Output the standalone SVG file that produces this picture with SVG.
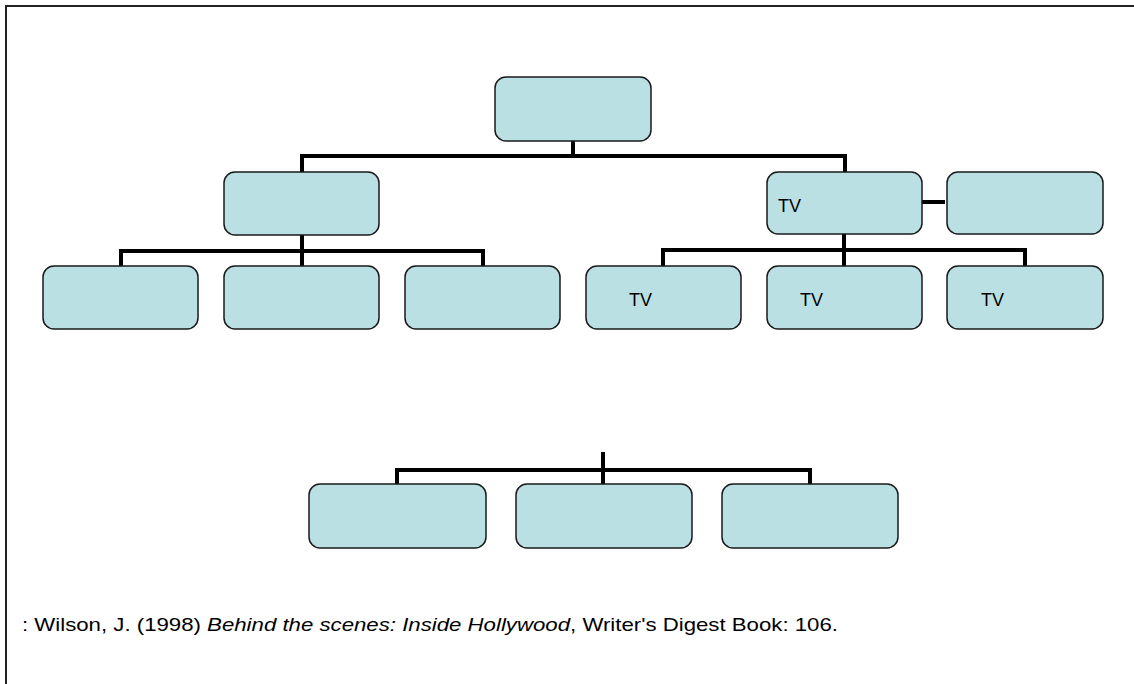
<svg xmlns="http://www.w3.org/2000/svg" width="1134" height="684" viewBox="0 0 1134 684">
<style>
.box{fill:#BBE0E3;stroke:#1a1a1a;stroke-width:1.5}
.con{fill:none;stroke:#000;stroke-width:4}
.lbl{font-family:"Liberation Sans",Arial,sans-serif;font-size:18px;fill:#000}
.ref{font-family:"Liberation Sans",Arial,sans-serif;font-size:19px;fill:#000}
</style>
<rect width="1134" height="684" fill="#fff"/>
<path d="M6 684 V6 H1134" fill="none" stroke="#222" stroke-width="2"/>
<g id="connectors">
<path class="con" d="M573 141 V156 M302 172 V156 H845 V172"/>
<path class="con" d="M302 235 V251 M121 266 V251 H483 V266 M302 251 V266"/>
<path class="con" d="M844 234 V250 M663 266 V250 H1025 V266 M844 250 V266"/>
<path class="con" d="M922 202 H945"/>
<path class="con" d="M603 452 V470 M397 484 V470 H810 V484 M603 470 V484"/>
</g>
<g id="n-top"><rect class="box" x="495" y="77" width="156" height="64" rx="11"/></g>
<g id="n-l2a"><rect class="box" x="224" y="172" width="155" height="63" rx="11"/></g>
<g id="n-l2b"><rect class="box" x="767" y="172" width="155" height="62" rx="11"/><text class="lbl" x="778" y="212">TV</text></g>
<g id="n-side"><rect class="box" x="947" y="172" width="156" height="62" rx="11"/></g>
<g id="n-l3a"><rect class="box" x="43" y="266" width="155" height="63" rx="11"/></g>
<g id="n-l3b"><rect class="box" x="224" y="266" width="155" height="63" rx="11"/></g>
<g id="n-l3c"><rect class="box" x="405" y="266" width="155" height="63" rx="11"/></g>
<g id="n-l3d"><rect class="box" x="586" y="266" width="155" height="63" rx="11"/><text class="lbl" x="629" y="306">TV</text></g>
<g id="n-l3e"><rect class="box" x="767" y="266" width="155" height="63" rx="11"/><text class="lbl" x="800" y="306">TV</text></g>
<g id="n-l3f"><rect class="box" x="947" y="266" width="156" height="63" rx="11"/><text class="lbl" x="981" y="306">TV</text></g>
<g id="n-b1"><rect class="box" x="309" y="484" width="177" height="64" rx="11"/></g>
<g id="n-b2"><rect class="box" x="516" y="484" width="176" height="64" rx="11"/></g>
<g id="n-b3"><rect class="box" x="722" y="484" width="176" height="64" rx="11"/></g>
<text class="ref" x="22" y="631" textLength="816" lengthAdjust="spacingAndGlyphs">: Wilson, J. (1998) <tspan font-style="italic">Behind the scenes: Inside Hollywood</tspan>, Writer's Digest Book: 106.</text>
</svg>
